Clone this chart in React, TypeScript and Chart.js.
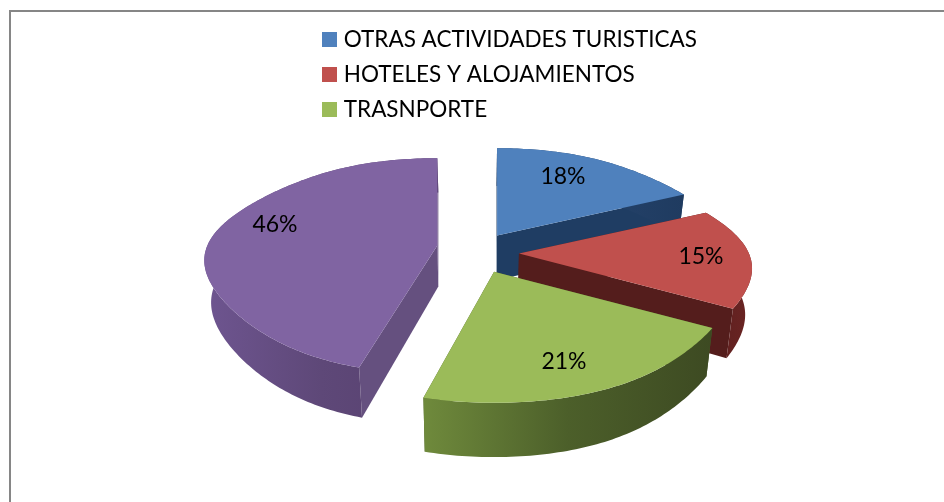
import React, { useEffect, useRef } from "react";
import { Chart, registerables } from "chart.js";

Chart.register(...registerables);

const categories = ["OTRAS ACTIVIDADES TURISTICAS", "HOTELES Y ALOJAMIENTOS", "TRASNPORTE", "OTROS"];
const shares = [18, 15, 21, 46];
const legendEntries = 3;
const explodePx = [43, 43, 43, 43];
const colors = ["#4f81bd", "#c0504d", "#9bbb59", "#8064a2"];

// look of the 3-D pie (styling only)
const CX = 477, CY = 254, RX = 230, RY = 104, PERSP = 0.19, BOTTOM_SHRINK = 0.975, CORNER_PINCH = 0.2;
const sliceDepth = [45, 45, 44, 41];
const sliceNudge: [number, number][] = [[-3, -2], [-1, -1], [0, 0], [3, -6]];
const sliceScale = [1, 1, 1.02, 1];
const startTweakDeg = [0, 0, 0, 2];
const wallStops = [
  ["#2a4a75", "#1f3b60"],
  ["#5a1f1e", "#6b2423"],
  ["#6f8a3c", "#4c5f2a", "#3d4a22"],
  ["#6e5590", "#5e4878", "#57406f"],
];
const sideColors = ["#1f3d63", "#541d1c", "#4c5f2a", "#65507f"];
const paintOrder = [0, 3, 1, 2];
const labelPos: [number, number][] = [[563, 177], [701, 257], [564, 362], [275, 225]];
const FONT = "Lato";

function swatch(color: string) {
  const c = document.createElement("canvas");
  c.width = 15;
  c.height = 15;
  const g = c.getContext("2d")!;
  g.fillStyle = color;
  g.fillRect(0, 0, 15, 15);
  return c;
}

const pie3d = {
  id: "pie3d",
  beforeDraw(chart: any) {
    const ctx = chart.ctx;
    ctx.save();
    ctx.fillStyle = "#fff";
    ctx.fillRect(0, 0, chart.width, chart.height);
    ctx.fillStyle = "#868686";
    ctx.fillRect(9, 10, chart.width - 9, 2);
    ctx.fillRect(9, 10, 2, chart.height - 10);
    ctx.restore();
  },
  afterLayout(chart: any) {
    const l = chart.legend;
    l.left = 314;
    l.right = 800;
    l.top = 16;
    l.bottom = 160;
  },
  beforeDatasetsDraw(chart: any) {
    const ctx = chart.ctx;
    const arcs = chart.getDatasetMeta(0).data;
    const ds = chart.data.datasets[0];
    for (const i of paintOrder) {
      const arc = arcs[i];
      const props = arc.getProps(["startAngle", "endAngle"], true);
      const endAngle = props.endAngle;
      const mid = (props.startAngle + endAngle) / 2;
      const startAngle = props.startAngle + (startTweakDeg[i] * Math.PI) / 180;
      const off = ds.offset[i];
      const ax = CX + off * Math.cos(mid) + sliceNudge[i][0];
      const ay = CY + (off * Math.sin(mid) * RY) / RX + sliceNudge[i][1];
      const depth = sliceDepth[i];
      const k0 = sliceScale[i];
      const project = (a: number) => {
        const u = Math.cos(a), v = Math.sin(a);
        const s = 1 / (1 - PERSP * v);
        return { x: ax + k0 * RX * u * s * (1 - CORNER_PINCH * u * v * u * v), y: ay + k0 * RY * v * s, s };
      };
      const low = (p: { x: number; y: number; s: number }) => ({
        x: CX + (p.x - CX) * BOTTOM_SHRINK,
        y: p.y + depth * p.s,
        s: p.s,
      });
      const n = Math.max(8, Math.round(((endAngle - startAngle) * 180) / Math.PI));
      const rim: any[] = [];
      for (let k = 0; k <= n; k++) rim.push(project(startAngle + ((endAngle - startAngle) * k) / n));
      const apex = { x: ax, y: ay, s: 1 };
      const poly = (pts: any[], fill: any) => {
        ctx.beginPath();
        pts.forEach((p, idx) => (idx ? ctx.lineTo(p.x, p.y) : ctx.moveTo(p.x, p.y)));
        ctx.closePath();
        ctx.fillStyle = fill;
        ctx.fill();
      };
      const first = rim[0], last = rim[rim.length - 1];
      poly([apex, first, low(first), low(apex)], sideColors[i]);
      poly([apex, last, low(last), low(apex)], sideColors[i]);
      const xs = rim.map((p) => p.x);
      const grad = ctx.createLinearGradient(Math.min(...xs), 0, Math.max(...xs), 0);
      const stops = wallStops[i];
      stops.forEach((c, k) => grad.addColorStop(k / (stops.length - 1), c));
      poly([...rim, ...rim.slice().reverse().map(low)], grad);
      poly([apex, ...rim], ds.backgroundColor[i]);
    }
    ctx.save();
    ctx.fillStyle = "#000";
    ctx.font = `23px ${FONT}`;
    ctx.textAlign = "center";
    ctx.textBaseline = "middle";
    shares.forEach((v, i) => ctx.fillText(`${v}%`, labelPos[i][0], labelPos[i][1]));
    ctx.restore();
    return false;
  },
};

export default function App() {
  const ref = useRef<HTMLCanvasElement>(null);
  useEffect(() => {
    document.body.style.margin = "0";
    const chart = new Chart(ref.current!, {
      type: "pie",
      data: {
        labels: categories,
        datasets: [{ data: shares, backgroundColor: colors, offset: explodePx, borderWidth: 0 }],
      },
      options: {
        animation: false,
        responsive: false,
        plugins: {
          tooltip: { enabled: false },
          legend: {
            display: true,
            position: "left",
            align: "start",
            labels: {
              color: "#000",
              font: { family: FONT, size: 22.5 },
              padding: 12.5,
              boxHeight: 15,
              usePointStyle: true,
              pointStyleWidth: 6,
              generateLabels: () =>
                categories.slice(0, legendEntries).map((text, i) => ({
                  text,
                  fillStyle: colors[i],
                  strokeStyle: colors[i],
                  lineWidth: 0,
                  pointStyle: swatch(colors[i]),
                  hidden: false,
                  index: i,
                })),
            },
          },
        },
      },
      plugins: [pie3d],
    } as any);
    return () => chart.destroy();
  }, []);
  return <canvas ref={ref} width={944} height={502} style={{ display: "block" }} />;
}
